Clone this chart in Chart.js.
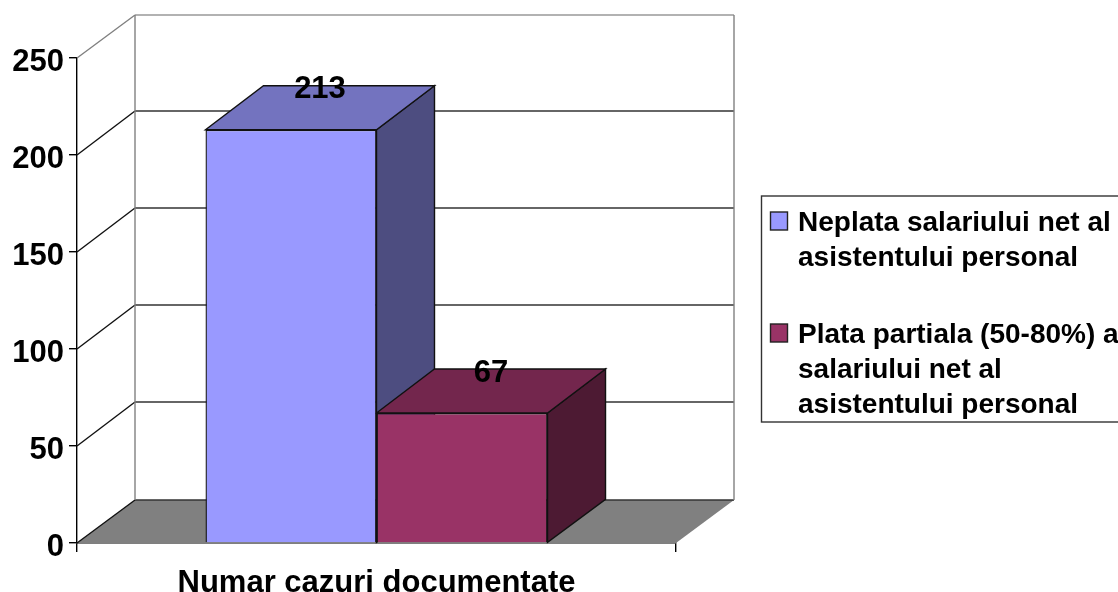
<!DOCTYPE html>
<html>
<head>
<meta charset="utf-8">
<title>Numar cazuri documentate</title>
<script src="https://cdn.jsdelivr.net/npm/chart.js"></script>
<style>
  body { margin: 0; background: #fff; }
  canvas { display: block; }
</style>
</head>
<body>
<canvas id="myChart" width="1118" height="592"></canvas>
<script>
const categories = ["Numar cazuri documentate"];
const seriesNames = ["Neplata salariului net al asistentului personal", "Plata partiala (50-80%) a salariului net al asistentului personal"];
const legendLines = [
  ["Neplata salariului net al", "asistentului personal"],
  ["Plata partiala (50-80%) a", "salariului net al", "asistentului personal"]
];
const neplataValues = [213];
const plataValues = [67];
const yTicks = [0, 50, 100, 150, 200, 250];

const fontFamily = "'Liberation Sans', Arial, sans-serif";
const depthX = 58, depthY = 44, wallDepthY = 43;
const lineW = 1.4;

function poly(ctx, pts, fill, stroke) {
  ctx.beginPath();
  pts.forEach((p, i) => i ? ctx.lineTo(p[0], p[1]) : ctx.moveTo(p[0], p[1]));
  ctx.closePath();
  if (fill) { ctx.fillStyle = fill; ctx.fill(); }
  if (stroke) { ctx.strokeStyle = stroke; ctx.lineWidth = lineW; ctx.stroke(); }
}

function line(ctx, x1, y1, x2, y2, color) {
  ctx.beginPath();
  ctx.moveTo(x1, y1);
  ctx.lineTo(x2, y2);
  ctx.strokeStyle = color;
  ctx.lineWidth = lineW;
  ctx.stroke();
}

// back wall, floor and the 3D faces of the bars, under the front faces
const box3d = {
  id: "box3d",
  beforeDatasetsDraw(chart) {
    const ctx = chart.ctx, a = chart.chartArea, y = chart.scales.y;
    ctx.save();
    const py0 = y.getPixelForValue(0);
    poly(ctx, [[a.left, py0], [a.right, py0], [a.right + depthX, py0 - wallDepthY], [a.left + depthX, py0 - wallDepthY]], "#808080");
    yTicks.forEach(v => {
      const py = y.getPixelForValue(v);
      const top = v === yTicks[yTicks.length - 1];
      const d = (top || v === 0) ? wallDepthY : depthY;
      line(ctx, a.left, py, a.left + depthX, py - d, top ? "#808080" : "#111");
      line(ctx, a.left + depthX, py - d, a.right + depthX, py - d, top ? "#999" : "#333");
    });
    const topY = y.getPixelForValue(250) - wallDepthY;
    const botY = py0 - wallDepthY;
    line(ctx, a.left + depthX, topY, a.left + depthX, botY, "#808080");
    line(ctx, a.right + depthX, topY, a.right + depthX, botY, "#808080");

    const shades = [["#7373BF", "#4D4D80"], ["#73264D", "#4D1A33"]];
    chart.data.datasets.forEach((ds, i) => {
      const bar = chart.getDatasetMeta(i).data[0];
      const l = bar.x - bar.width / 2, r = bar.x + bar.width / 2;
      poly(ctx, [[r, bar.y], [r + depthX, bar.y - depthY], [r + depthX, bar.base - wallDepthY], [r, bar.base]], shades[i][1], "#111");
      poly(ctx, [[l, bar.y], [l + depthX, bar.y - depthY], [r + depthX, bar.y - depthY], [r, bar.y]], shades[i][0], "#111");
    });
    ctx.restore();
  },
  afterDatasetsDraw(chart) {
    const ctx = chart.ctx;
    ctx.save();
    ctx.font = "bold 31px " + fontFamily;
    ctx.fillStyle = "#000";
    ctx.textAlign = "center";
    ctx.textBaseline = "middle";
    chart.data.datasets.forEach((ds, i) => {
      const bar = chart.getDatasetMeta(i).data[0];
      ctx.fillText(ds.data[0], bar.x + depthX / 2, bar.y - depthY + 4);
    });
    ctx.restore();
  }
};

// legend box runs off the right edge of the picture, lines are wrapped by hand
const sideLegend = {
  id: "sideLegend",
  afterDraw(chart) {
    const ctx = chart.ctx;
    ctx.save();
    ctx.strokeStyle = "#333";
    ctx.lineWidth = lineW;
    ctx.strokeRect(761.5, 196, 400, 226);
    ctx.font = "bold 28px " + fontFamily;
    ctx.textBaseline = "alphabetic";
    ctx.textAlign = "left";
    let baseline = 231;
    legendLines.forEach((lines, i) => {
      ctx.fillStyle = chart.data.datasets[i].backgroundColor;
      ctx.fillRect(770.5, baseline - 19, 17, 18);
      ctx.strokeStyle = "#222";
      ctx.strokeRect(770.5, baseline - 19, 17, 18);
      ctx.fillStyle = "#000";
      lines.forEach((t, j) => ctx.fillText(t, 798, baseline + j * 35));
      baseline += lines.length * 35 + 42;
    });
    ctx.restore();
  }
};

const tickFont = { family: fontFamily, size: 31, weight: "bold" };

new Chart(document.getElementById("myChart"), {
  type: "bar",
  data: {
    labels: categories,
    datasets: [
      { label: seriesNames[0], data: neplataValues, backgroundColor: "#9999FF", borderColor: "#111", borderWidth: lineW },
      { label: seriesNames[1], data: plataValues, backgroundColor: "#993366", borderColor: "#111", borderWidth: lineW }
    ]
  },
  options: {
    responsive: false,
    animation: false,
    categoryPercentage: 0.571,
    barPercentage: 1,
    layout: { padding: { top: 58, right: 442, left: 0, bottom: 0 } },
    plugins: { legend: { display: false }, tooltip: { enabled: false } },
    scales: {
      y: {
        min: 0,
        max: 250,
        afterFit(scale) { scale.width = 77; },
        afterBuildTicks(scale) { scale.ticks = yTicks.map(v => ({ value: v })); },
        grid: { drawOnChartArea: false, drawTicks: true, tickLength: 8, color: "#000", lineWidth: lineW },
        border: { display: true, color: "#000", width: lineW },
        ticks: { font: tickFont, color: "#000", padding: 5, labelOffset: 4 }
      },
      x: {
        afterFit(scale) { scale.height = 49; },
        grid: { drawOnChartArea: false, drawTicks: true, tickLength: 9, offset: true, color: "#000", lineWidth: lineW },
        border: { display: true, color: "#000", width: lineW },
        ticks: { font: tickFont, color: "#000", padding: 13, maxRotation: 0 }
      }
    }
  },
  plugins: [box3d, sideLegend]
});
</script>
</body>
</html>
